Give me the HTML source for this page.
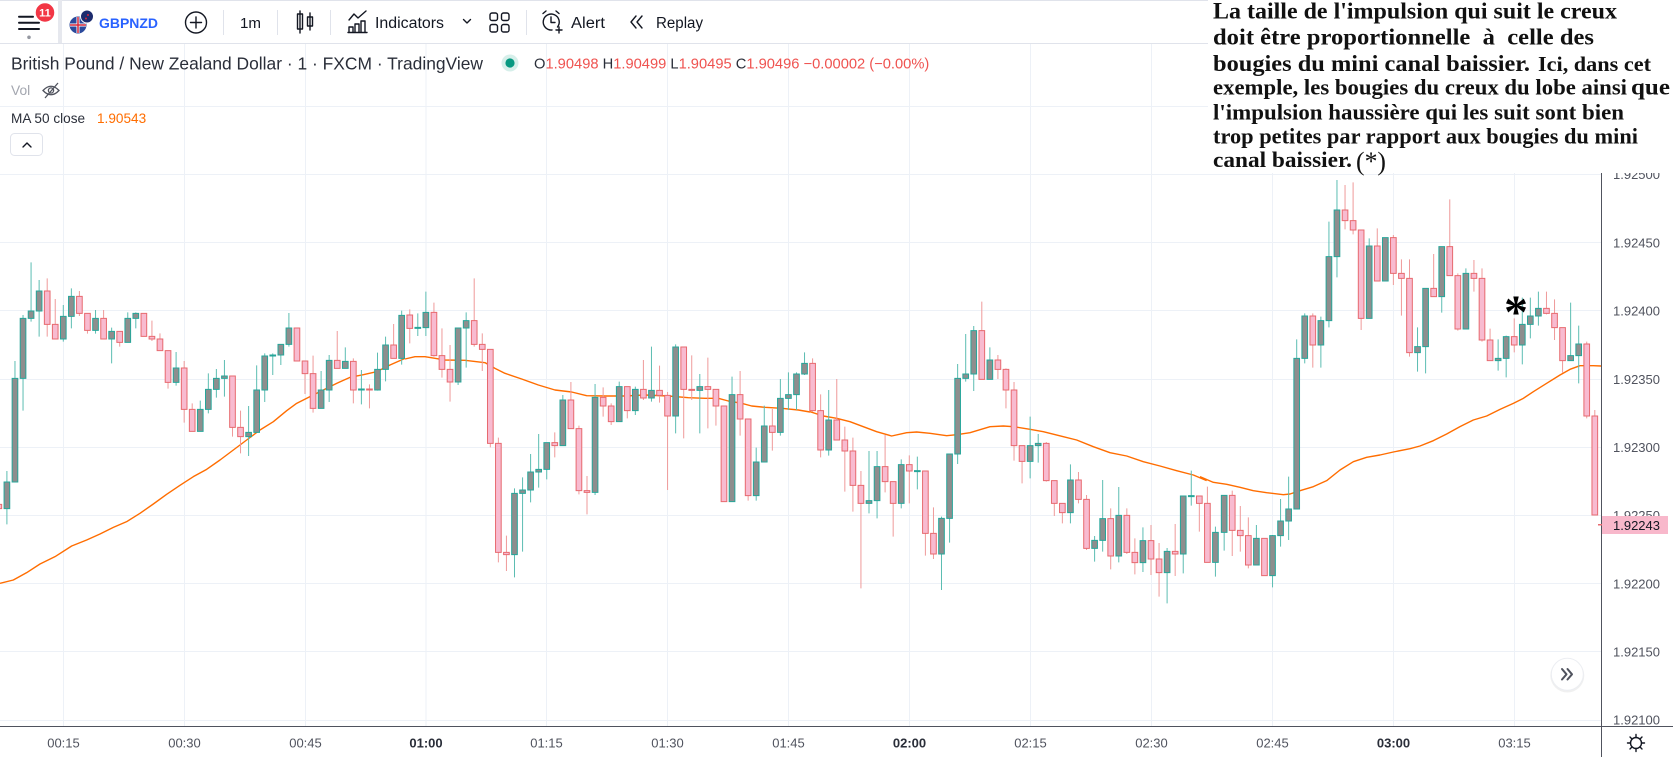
<!DOCTYPE html>
<html><head><meta charset="utf-8"><style>
html,body{margin:0;padding:0;background:#fff;}
svg{display:block;}
.t{font-family:"Liberation Sans",Arial,sans-serif;}
.s{font-family:"Liberation Serif","Times New Roman",serif;font-weight:bold;fill:#111;white-space:pre;}
.uw{stroke:#5cbdb2;stroke-width:3;fill:none;}
.dw{stroke:#ef9a9a;stroke-width:3;fill:none;}
.ub{fill:#8e8e8e;stroke:#26a69a;stroke-width:3;}
.db{fill:#f8bbd0;stroke:#e76a6f;stroke-width:3;}
.ma{fill:none;stroke:#ff6d00;stroke-width:4.2;stroke-linejoin:round;}
.ic{fill:none;stroke:#131722;stroke-width:1.4;stroke-linecap:round;stroke-linejoin:round;}
</style></head><body>
<svg width="1673" height="757" viewBox="0 0 1673 757" xmlns="http://www.w3.org/2000/svg">
<defs><clipPath id="cp"><rect x="0" y="44" width="1601" height="682"/></clipPath></defs>
<rect width="1673" height="757" fill="#fff"/>
<!-- grid -->
<g stroke="#edf1f7" stroke-width="1">
<path d="M0 106.5H1601M0 174.5H1601M0 242.5H1601M0 310.5H1601M0 379.5H1601M0 447.5H1601M0 515.5H1601M0 583.5H1601M0 651.5H1601M0 720.5H1601"/>
<path d="M63.5 44V726M184.5 44V726M305.5 44V726M426 44V726M546.5 44V726M667.5 44V726M788.5 44V726M909.5 44V726M1030.5 44V726M1151.5 44V726M1272.5 44V726M1393.5 44V726M1514.5 44V726"/>
</g>
<g clip-path="url(#cp)">
<!-- Group A -->
<g transform="translate(0,240) scale(0.333333)">
<polyline class="ma" points="0,1030 40,1020 80,998 120,972 165,950 215,918 260,900 300,882 340,862 380,845 420,820 460,792 500,763 540,736 580,710 620,688 660,660 700,630 740,600 780,570 820,545 860,512 890,490 930,470 970,450 1010,430 1050,412 1090,404 1130,395 1170,375 1215,355"/>
<path class="uw" d="M20.7 693V853M44.9 363V726M69.1 225V512M93.2 67V245M117.4 120V290M189.9 195V305M214.1 145V265M286.6 210V281M334.9 263V370M383.3 217V307M407.4 217V265M528.3 336V437M600.8 482V574M625 400V520M649.1 387V473M673.3 360V470M745.8 498V648M770 376V577M794.2 340V486M818.3 340V405M842.5 313V375M866.7 219V320M963.3 393V505M987.5 345V486M1035.9 322V385M1084.2 390V493M1132.5 338V452M1156.7 290V424M1205 212V374"/>
<path class="dw" d="M-3.5 790V806M141.6 115V290M165.7 177V297M238.2 153V228M262.4 220V281M310.8 210V297M359.1 274V320M431.6 220V289M455.8 242V303M479.9 280V332M504.1 332V446M552.5 363V548M576.6 490V574M697.5 408V590M721.6 512V640M890.8 264V363M915 363V462M939.2 347V518M1011.7 273V385M1060 355V490M1108.4 433V505M1180.9 252V355"/>
<path class="ub" d="M12.2 726h17V806h-17ZM36.4 415h17V726h-17ZM60.6 235h17V415h-17ZM84.7 213h17V235h-17ZM108.9 153h17V213h-17ZM181.4 229h17V297h-17ZM205.6 169h17V229h-17ZM278.1 235h17V271h-17ZM326.4 274h17V297h-17ZM374.8 235h17V307h-17ZM398.9 220h17V235h-17ZM519.8 384h17V427h-17ZM592.3 508h17V574h-17ZM616.5 448h17V508h-17ZM640.6 415h17V448h-17ZM664.8 408h17V415h-17ZM737.3 577h17V590h-17ZM761.5 450h17V577h-17ZM785.7 348h17V450h-17ZM809.8 345h17V348h-17ZM834 313h17V345h-17ZM858.2 264h17V313h-17ZM954.8 450h17V505h-17ZM979 361h17V450h-17ZM1027.4 364h17V385h-17ZM1075.7 447h17V450h-17ZM1124 388h17V450h-17ZM1148.2 315h17V388h-17ZM1196.5 226h17V355h-17Z"/>
<path class="db" d="M-12 793h17V806h-17ZM133.1 153h17V253h-17ZM157.2 253h17V297h-17ZM229.7 169h17V220h-17ZM253.9 220h17V271h-17ZM302.3 235h17V297h-17ZM350.6 274h17V307h-17ZM423.1 220h17V289h-17ZM447.3 289h17V297h-17ZM471.4 297h17V332h-17ZM495.6 332h17V427h-17ZM544 384h17V508h-17ZM568.1 508h17V574h-17ZM689 408h17V562h-17ZM713.1 562h17V590h-17ZM882.3 264h17V363h-17ZM906.5 363h17V401h-17ZM930.7 401h17V505h-17ZM1003.2 361h17V385h-17ZM1051.5 364h17V450h-17ZM1099.9 447h17V450h-17ZM1172.4 315h17V355h-17Z"/>
</g>
<!-- Group B -->
<g transform="translate(405,260) scale(0.333333)">
<polyline class="ma" points="0,297 30,290 60,290 90,295 120,300 180,301 240,308 270,325 300,340 350,357 400,375 450,390 500,396 545,407 600,408 660,408 720,405 790,408 850,413 900,415 940,415 970,423 1010,430 1040,438 1080,442 1130,445 1180,450 1215,456"/>
<path class="uw" d="M38.4 160V228M62.6 95V228M159.3 204V375M183.5 157V323M328.5 685V952M352.7 652V875M376.8 582V727M401 522V683M425.2 548V658M473.5 405V557M570.2 372V705M642.7 365V485M691 380V465M739.4 260V425M811.9 253V520M884.4 342V520M981.1 350V725M1053.6 563V722M1077.8 437V606M1126.1 357V527M1150.3 337V450M1174.5 337V450M1198.6 277V345"/>
<path class="dw" d="M14.3 148V250M86.8 128V290M110.9 205V353M135.1 255V425M207.6 55V260M231.8 220V333M256 268V562M280.1 533V907M304.3 827V933M449.3 517V592M497.7 366V506M521.8 497V703M546 648V763M594.4 382V470M618.5 430V495M666.9 380V475M715.2 300V420M763.6 317V428M787.7 396V690M836.1 261V535M860.2 286V420M908.6 293V505M932.8 388V497M956.9 438V725M1005.3 333V527M1029.4 477V722M1102 447V572M1222.8 295V455"/>
<path class="ub" d="M29.9 202h17V205h-17ZM54.1 157h17V203h-17ZM150.8 204h17V366h-17ZM175 182h17V204h-17ZM320 700h17V884h-17ZM344.2 690h17V700h-17ZM368.3 636h17V690h-17ZM392.5 628h17V636h-17ZM416.7 548h17V628h-17ZM465 420h17V557h-17ZM561.7 412h17V697h-17ZM634.2 380h17V485h-17ZM682.5 388h17V452h-17ZM730.9 391h17V414h-17ZM803.4 261h17V468h-17ZM875.9 380h17V391h-17ZM972.6 404h17V725h-17ZM1045.1 606h17V707h-17ZM1069.3 498h17V606h-17ZM1117.6 415h17V517h-17ZM1141.8 404h17V415h-17ZM1166 342h17V404h-17ZM1190.1 310h17V342h-17Z"/>
<path class="db" d="M5.8 165h17V205h-17ZM78.3 157h17V287h-17ZM102.4 287h17V328h-17ZM126.6 328h17V366h-17ZM199.1 182h17V253h-17ZM223.3 253h17V268h-17ZM247.5 268h17V550h-17ZM271.6 550h17V877h-17ZM295.8 877h17V884h-17ZM440.8 548h17V557h-17ZM489.2 420h17V506h-17ZM513.3 506h17V692h-17ZM537.5 692h17V697h-17ZM585.9 412h17V438h-17ZM610 438h17V485h-17ZM658.4 380h17V452h-17ZM706.7 388h17V414h-17ZM755.1 391h17V406h-17ZM779.2 406h17V468h-17ZM827.6 261h17V388h-17ZM851.7 388h17V391h-17ZM900.1 380h17V388h-17ZM924.3 388h17V438h-17ZM948.4 438h17V725h-17ZM996.8 404h17V477h-17ZM1020.9 477h17V707h-17ZM1093.5 498h17V517h-17ZM1214.3 310h17V452h-17Z"/>
</g>
<!-- Group C -->
<g transform="translate(810,260) scale(0.333333)">
<polyline class="ma" points="0,455 40,468 80,475 120,485 160,500 200,515 245,528 290,518 320,516 360,520 410,527 440,524 480,518 540,500 580,498 610,500 660,508 700,515 760,530 800,540 850,560 900,578 950,588 1000,605 1050,618 1100,632 1150,645 1190,662"/>
<path class="uw" d="M56.1 390V587M177 573V760M201.2 573V775M273.7 598V745M322 590V688M394.5 770V990M418.7 582V848M442.9 312V612M467.1 222V365M491.2 198V393M539.6 262V358M660.4 470V655M684.6 522V608M781.3 613V790M853.8 828V905M878 660V875M926.3 681V907M998.8 802V936M1071.3 864V1030M1119.7 708V940M1143.8 632V737M1216.3 800V950"/>
<path class="dw" d="M31.9 403V592M80.3 357V540M104.5 500V695M128.7 533V755M152.8 633V985M225.3 525V697M249.5 665V830M297.9 586V730M346.2 633V887M370.4 742V897M515.4 125V358M563.7 285V357M587.9 325V445M612.1 366V602M636.2 557V670M708.8 546V665M732.9 662V768M757.1 730V790M805.4 636V730M829.6 705V870M902.1 745V928M950.5 745V882M974.6 835V943M1023 795V945M1047.2 849V1010M1095.5 792V948M1168 708V815M1192.2 680V907"/>
<path class="ub" d="M47.6 480h17V570h-17ZM168.5 722h17V730h-17ZM192.7 620h17V722h-17ZM265.2 614h17V730h-17ZM313.5 632h17V635h-17ZM386 775h17V882h-17ZM410.2 582h17V775h-17ZM434.4 355h17V582h-17ZM458.6 342h17V355h-17ZM482.7 212h17V342h-17ZM531.1 300h17V358h-17ZM651.9 557h17V604h-17ZM676.1 550h17V557h-17ZM772.8 660h17V758h-17ZM845.3 841h17V865h-17ZM869.5 776h17V841h-17ZM917.8 766h17V888h-17ZM990.3 842h17V908h-17ZM1062.8 874h17V938h-17ZM1111.2 708h17V882h-17ZM1135.3 707h17V710h-17ZM1207.8 817h17V907h-17Z"/>
<path class="db" d="M23.4 452h17V570h-17ZM71.8 480h17V540h-17ZM96 540h17V573h-17ZM120.2 573h17V676h-17ZM144.3 676h17V730h-17ZM216.8 620h17V665h-17ZM241 665h17V730h-17ZM289.4 614h17V633h-17ZM337.7 633h17V820h-17ZM361.9 820h17V882h-17ZM506.9 212h17V358h-17ZM555.2 300h17V328h-17ZM579.4 328h17V390h-17ZM603.6 390h17V557h-17ZM627.7 557h17V604h-17ZM700.3 550h17V662h-17ZM724.4 662h17V730h-17ZM748.6 730h17V758h-17ZM796.9 660h17V718h-17ZM821.1 718h17V865h-17ZM893.6 776h17V888h-17ZM942 766h17V877h-17ZM966.1 877h17V908h-17ZM1014.5 842h17V897h-17ZM1038.7 897h17V938h-17ZM1087 874h17V882h-17ZM1159.5 708h17V730h-17ZM1183.7 730h17V907h-17Z"/>
</g>
<!-- Group D -->
<g transform="translate(1200,170) scale(0.333333)">
<polyline class="ma" points="0,920 40,937 80,943 120,952 160,962 200,968 250,974 270,972 300,962 340,950 380,932 420,900 460,875 500,862 540,855 580,846 630,836 660,828 700,812 740,792 780,770 820,750 860,738 900,718 940,700 970,685 1000,665 1040,640 1080,615 1110,598 1140,587 1180,587 1203,588"/>
<path class="uw" d="M72.5 976V1142M169.2 1065V1185M217.6 1095V1252M241.7 987V1130M265.9 920V1110M290.1 508V1017M314.2 430V580M362.6 440V593M386.8 155V472M410.9 30V322M507.6 205V445M556 203V333M652.6 472V605M676.8 355V610M725.2 230V428M797.7 295V477M894.4 508V602M918.5 497V622M966.9 383V583M991 383V505M1015.2 365V467M1111.9 398V572M1136.1 467V640"/>
<path class="dw" d="M96.7 962V1158M120.9 1008V1145M145 1042V1195M193.4 1105V1217M338.4 430V593M435.1 45V178M459.3 37V193M483.4 180V480M531.8 175V333M580.1 195V345M604.3 268V437M628.5 268V560M701 252V380M749.3 88V317M773.5 310V482M821.8 270V365M846 295V515M870.2 476V572M942.7 445V547M1039.4 365V433M1063.6 388V510M1087.7 473V608M1160.2 515V745M1184.4 720V1035"/>
<path class="ub" d="M64 976h17V1087h-17ZM160.7 1105h17V1185h-17ZM209.1 1097h17V1217h-17ZM233.2 1053h17V1097h-17ZM257.4 1017h17V1053h-17ZM281.6 565h17V1017h-17ZM305.7 438h17V565h-17ZM354.1 452h17V525h-17ZM378.3 260h17V452h-17ZM402.4 120h17V260h-17ZM499.1 228h17V445h-17ZM547.5 203h17V333h-17ZM644.1 530h17V548h-17ZM668.3 355h17V530h-17ZM716.7 230h17V380h-17ZM789.2 310h17V477h-17ZM885.9 565h17V572h-17ZM910 500h17V565h-17ZM958.4 463h17V525h-17ZM982.5 438h17V463h-17ZM1006.7 415h17V438h-17ZM1103.4 557h17V572h-17ZM1127.6 522h17V557h-17Z"/>
<path class="db" d="M88.2 976h17V1081h-17ZM112.4 1081h17V1097h-17ZM136.5 1097h17V1185h-17ZM184.9 1105h17V1217h-17ZM329.9 438h17V525h-17ZM426.6 120h17V152h-17ZM450.8 152h17V180h-17ZM474.9 180h17V445h-17ZM523.3 228h17V333h-17ZM571.6 203h17V310h-17ZM595.8 310h17V325h-17ZM620 325h17V548h-17ZM692.5 355h17V380h-17ZM740.8 230h17V317h-17ZM765 317h17V477h-17ZM813.3 310h17V325h-17ZM837.5 325h17V510h-17ZM861.7 510h17V572h-17ZM934.2 500h17V525h-17ZM1030.9 415h17V430h-17ZM1055.1 430h17V473h-17ZM1079.2 473h17V572h-17ZM1151.7 522h17V738h-17ZM1175.9 738h17V1035h-17Z"/>
</g>
</g>
<!-- asterisk in chart -->
<text x="1516" y="328" text-anchor="middle" font-family="Liberation Serif,serif" font-weight="bold" font-size="48" fill="#000">*</text>
<!-- axes -->
<line x1="0" y1="726.5" x2="1673" y2="726.5" stroke="#50535e" stroke-width="1"/>
<line x1="1601.5" y1="0" x2="1601.5" y2="757" stroke="#50535e" stroke-width="1"/>
<g class="t" font-size="13" fill="#50535e">
<text x="1613" y="179.2">1.92500</text>
<text x="1613" y="247.4">1.92450</text>
<text x="1613" y="315.6">1.92400</text>
<text x="1613" y="383.8">1.92350</text>
<text x="1613" y="452">1.92300</text>
<text x="1613" y="520.2">1.92250</text>
<text x="1613" y="588.4">1.92200</text>
<text x="1613" y="656.6">1.92150</text>
<text x="1613" y="724.7">1.92100</text>
</g>
<rect x="1602" y="516" width="66" height="18" fill="#f8b8cb"/>
<rect x="1598" y="524" width="4" height="1.5" fill="#e76a6f"/>
<text class="t" x="1613" y="529.8" font-size="13" fill="#131722">1.92243</text>
<g class="t" font-size="13" fill="#50535e" text-anchor="middle">
<text x="63.5" y="747.7">00:15</text>
<text x="184.5" y="747.7">00:30</text>
<text x="305.5" y="747.7">00:45</text>
<text x="426" y="747.7" font-weight="bold" fill="#2a2e39">01:00</text>
<text x="546.5" y="747.7">01:15</text>
<text x="667.5" y="747.7">01:30</text>
<text x="788.5" y="747.7">01:45</text>
<text x="909.5" y="747.7" font-weight="bold" fill="#2a2e39">02:00</text>
<text x="1030.5" y="747.7">02:15</text>
<text x="1151.5" y="747.7">02:30</text>
<text x="1272.5" y="747.7">02:45</text>
<text x="1393.5" y="747.7" font-weight="bold" fill="#2a2e39">03:00</text>
<text x="1514.5" y="747.7">03:15</text>
</g>
<!-- gear -->
<g transform="translate(1636,743)" class="ic">
<circle r="5.5"/>
<path d="M0 -8.5V-5.5M0 5.5V8.5M-8.5 0H-5.5M5.5 0H8.5M-6 -6L-3.9 -3.9M6 6L3.9 3.9M-6 6L-3.9 3.9M6 -6L3.9 -3.9"/>
</g>
<!-- scroll button -->
<circle cx="1567.3" cy="675.5" r="17" fill="#000" opacity="0.06"/>
<circle cx="1567.3" cy="674.3" r="16" fill="#fff" stroke="#eceef2" stroke-width="1"/>
<path d="M1562 669L1566.5 674.3L1562 679.5M1567.5 669L1572 674.3L1567.5 679.5" fill="none" stroke="#50535e" stroke-width="2" stroke-linecap="round" stroke-linejoin="round"/>
<!-- toolbar -->
<rect x="0" y="0" width="1673" height="43" fill="#fff"/>
<line x1="0" y1="0.5" x2="1673" y2="0.5" stroke="#e0e3eb"/>
<line x1="0" y1="43.5" x2="1673" y2="43.5" stroke="#e0e3eb"/>
<rect x="58" y="0" width="4" height="43" fill="#e6e8ee"/>
<path d="M19 16.7H33M19 22.7H39M19 29H39" stroke="#131722" stroke-width="2" stroke-linecap="round"/>
<circle cx="29" cy="37.3" r="1.8" fill="#9598a1"/>
<circle cx="45" cy="12.5" r="10" fill="#f23645" stroke="#fff" stroke-width="1.5"/>
<text class="t" x="45" y="16.5" text-anchor="middle" font-size="11" fill="#fff" font-weight="bold">11</text>
<circle cx="78" cy="25" r="8.5" fill="#2b4a9c"/>
<path d="M70 25H86M78 17V33" stroke="#fff" stroke-width="3"/>
<path d="M70 25H86M78 17V33" stroke="#d6283c" stroke-width="1.5"/>
<circle cx="87" cy="16.5" r="6.5" fill="#1d2c6e" stroke="#fff" stroke-width="1"/>
<circle cx="88" cy="15" r="1" fill="#d6283c"/><circle cx="86" cy="18.5" r="1" fill="#d6283c"/>
<text class="t" x="99" y="27.8" font-size="14" font-weight="bold" fill="#2962ff" textLength="59" lengthAdjust="spacingAndGlyphs">GBPNZD</text>
<circle cx="196" cy="22.5" r="10.5" class="ic"/>
<path d="M196 17V28M190.5 22.5H201.5" class="ic"/>
<path d="M223.5 10V35M277.5 10V35M330.5 10V35M526.5 10V35" stroke="#e0e3eb"/>
<text class="t" x="240" y="28" font-size="15" fill="#131722" textLength="21" lengthAdjust="spacingAndGlyphs">1m</text>
<path d="M300 11V33M297.5 14h5v15h-5ZM310 13V30M307.5 17h5v9h-5Z" class="ic" stroke-width="1.2"/>
<path d="M349 20L354 14L358 18L366 11" class="ic"/>
<path d="M349 32V27h4v5M355 32V24h4v8M361 32V21h4v11M348 32.5H367" class="ic" stroke-width="1.2"/>
<text class="t" x="375" y="28" font-size="15.5" fill="#131722" textLength="69" lengthAdjust="spacingAndGlyphs">Indicators</text>
<path d="M463.5 19.5L467 23L470.5 19.5" class="ic"/>
<g class="ic" stroke-width="1.3"><rect x="490" y="13" width="7.5" height="7.5" rx="2"/><rect x="501.5" y="13" width="7.5" height="7.5" rx="2"/><rect x="490" y="24.5" width="7.5" height="7.5" rx="2"/><rect x="501.5" y="24.5" width="7.5" height="7.5" rx="2"/></g>
<g class="ic" stroke-width="1.3"><path d="M557.5 27A8 8 0 1 0 552 30"/><path d="M551 17V22.5H555"/><path d="M543 13.5L546 11M559 13.5L556 11"/><path d="M559 27V33M556 30H562"/></g>
<text class="t" x="571" y="28" font-size="15.5" fill="#131722" textLength="34" lengthAdjust="spacingAndGlyphs">Alert</text>
<path d="M636 16L631 22L636 28M642 16L637 22L642 28" class="ic" stroke-width="1.3"/>
<text class="t" x="656" y="28" font-size="15.5" fill="#131722" textLength="47" lengthAdjust="spacingAndGlyphs">Replay</text>
<!-- legend -->
<text class="t" x="11" y="69.5" font-size="17.5" fill="#2a2e39" textLength="472" lengthAdjust="spacingAndGlyphs">British Pound / New Zealand Dollar · 1 · FXCM · TradingView</text>
<circle cx="510" cy="63" r="8.5" fill="#d6efea"/>
<circle cx="510" cy="63" r="4.6" fill="#089981"/>
<text class="t" x="534" y="68.5" font-size="14.7" fill="#2a2e39">O<tspan fill="#ef5350">1.90498</tspan> H<tspan fill="#ef5350">1.90499</tspan> L<tspan fill="#ef5350">1.90495</tspan> C<tspan fill="#ef5350">1.90496</tspan> <tspan fill="#ef5350">−0.00002 (−0.00%)</tspan></text>
<text class="t" x="11" y="95" font-size="13.8" fill="#a3a6af">Vol</text>
<g fill="none" stroke="#50535e" stroke-width="1.3"><path d="M43 90.5Q51 82 59 90.5Q51 99 43 90.5Z"/><circle cx="51" cy="90.5" r="2.6"/><path d="M45 98L58 83"/></g>
<text class="t" x="11" y="123" font-size="13.6" fill="#2a2e39">MA 50 close</text>
<text class="t" x="97" y="123" font-size="13.6" fill="#ff6d00">1.90543</text>
<rect x="10.5" y="133.5" width="32" height="22" rx="4" fill="#fff" stroke="#e0e3eb"/>
<path d="M23 147L27 143L31 147" class="ic" stroke-width="1.6"/>
<!-- annotation box -->
<rect x="1208" y="0" width="465" height="173" fill="#fff"/>
<text class="s" x="1213" y="18.5" font-size="23.5" textLength="404" lengthAdjust="spacingAndGlyphs">La taille de l'impulsion qui suit le creux</text>
<text class="s" x="1213" y="44.5" font-size="23.5" textLength="381" lengthAdjust="spacingAndGlyphs">doit être proportionnelle  à  celle des</text>
<text class="s" x="1213" y="71" font-size="23.5" textLength="317" lengthAdjust="spacingAndGlyphs">bougies du mini canal baissier.</text>
<text class="s" x="1538" y="71" font-size="21.5" textLength="113" lengthAdjust="spacingAndGlyphs">Ici, dans cet</text>
<text class="s" x="1213" y="94.5" font-size="22" textLength="414" lengthAdjust="spacingAndGlyphs">exemple, les bougies du creux du lobe ainsi</text>
<text class="s" x="1631" y="94.5" font-size="23.5" textLength="39" lengthAdjust="spacingAndGlyphs">que</text>
<text class="s" x="1213" y="119.5" font-size="22" textLength="411" lengthAdjust="spacingAndGlyphs">l'impulsion haussière qui les suit sont bien</text>
<text class="s" x="1213" y="143.5" font-size="22" textLength="425" lengthAdjust="spacingAndGlyphs">trop petites par rapport aux bougies du mini</text>
<text class="s" x="1213" y="167" font-size="22" textLength="139" lengthAdjust="spacingAndGlyphs">canal baissier.</text>
<text x="1356" y="170" font-family="Liberation Serif,serif" font-size="26" fill="#111" textLength="30" lengthAdjust="spacingAndGlyphs">(*)</text>
</svg>
</body></html>
